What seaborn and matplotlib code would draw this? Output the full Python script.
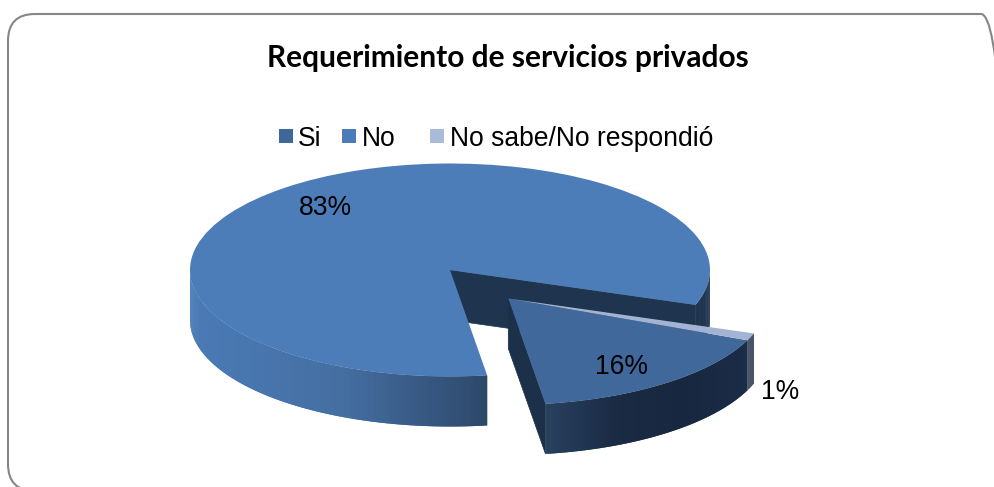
import numpy as np
import matplotlib
matplotlib.use('Agg')
import matplotlib.pyplot as plt
from matplotlib.patches import FancyBboxPatch, Rectangle
from matplotlib.transforms import IdentityTransform
import seaborn as sns

categories = ['Si', 'No', 'No sabe/No respondió']
values = [16.3, 82.6, 1.1]  # labels show them rounded
top_colors = ['#40689b', '#4c7db8', '#a3b3d3']
legend_colors = ['#3f6797', '#4c7cb8', '#aabbd8']

W, H = 995, 487
CX, CY = 450, 270   # pie centre in pixels
RX, RY = 260, 106.5  # ellipse radii
DEPTH = 50 / RY

sns.set_theme(style='white')
plt.rcParams['font.family'] = ['Liberation Sans', 'DejaVu Sans']

fig = plt.figure(figsize=(W / 100, H / 100), dpi=100, facecolor='white')
ax = fig.add_axes([0, 0, 1, 1])


def fig_xy(x, y):
    return x / W, 1 - y / H


wedges, _ = ax.pie(values, colors=top_colors, startangle=-23.1, counterclock=False, radius=1, center=(0, 0))
ax.set_aspect('auto')
ax.set_xlim(-CX / RX, (W - CX) / RX)
ax.set_ylim(-(H - CY) / RY, CY / RY)
ax.axis('off')

# Si and the small slice are pulled out together
si, no, ns = wedges
pulled = (58.3 / RX, -28.5 / RY)
si.set_center(pulled)
ns.set_center(pulled)
for w in wedges:
    w.set_linewidth(0)
    w.set_zorder(5)
    w.set_clip_on(False)


def wall(wedge, a0, a1, stops, zorder):
    # outer side of a slice, cut in thin strips to get the gradient
    a0 = max(a0, 180.0)
    a1 = min(a1, 360.0)
    if a1 <= a0:
        return
    n = int((a1 - a0) * 2) + 1
    pal = sns.blend_palette(stops, 200)
    edges = np.linspace(a0, a1, n + 1)
    cx, cy = wedge.center
    xs_all = cx + np.cos(np.radians(edges))
    xmin, xmax = xs_all.min(), xs_all.max()
    for i in range(n):
        # each strip runs under the next one so no seams show
        t0, t1 = edges[i], edges[min(i + 2, n)]
        x0, x1 = cx + np.cos(np.radians(t0)), cx + np.cos(np.radians(t1))
        y0, y1 = cy + np.sin(np.radians(t0)), cy + np.sin(np.radians(t1))
        k = (cx + np.cos(np.radians(edges[i])) - xmin) / max(xmax - xmin, 1e-6)
        c = pal[min(int(k * 199), 199)]
        ax.fill([x0, x1, x1, x0], [y0, y1, y1 - DEPTH, y0 - DEPTH], color=c, lw=0, zorder=zorder)


def cut_face(wedge, angle, color, zorder):
    cx, cy = wedge.center
    x = cx + np.cos(np.radians(angle))
    y = cy + np.sin(np.radians(angle))
    ax.fill([cx, x, x, cx], [cy, y, y - DEPTH, cy - DEPTH], color=color, lw=0.5, zorder=zorder)


# angles of the slices in 0..360; pie runs clockwise so theta1 is the far end of No
no_a, no_b = no.theta2 % 360, no.theta1 % 360   # no_a: left edge of the gap, no_b: right edge
wall(no, 180, no_a, ['#4a7ab5', '#456fa3', '#2c4869'], 2)
wall(no, no_b, 360, ['#1f344f', '#1f344f'], 2)
cut_face(no, no_b, '#1f344f', 2)

si_a, si_b = si.theta1 % 360, si.theta2 % 360
cut_face(si, si_a, '#1c304a', 3)
wall(si, si_a, si_b, ['#28415f', '#1a2b44', '#182740', '#1b2c46'], 3)
ns_a, ns_b = ns.theta1 % 360, ns.theta2 % 360
wall(ns, ns_a, ns_b, ['#4b5568', '#4a5266'], 3)

# frame of the chart, in pixels; it runs past the right and bottom of the image
fig.add_artist(FancyBboxPatch((35, -4 + 27), 1008 - 35 - 27, H - 14 - 23 - 27,
                              boxstyle='round,pad=27,rounding_size=27',
                              fc='none', ec='#868686', lw=1.5,
                              transform=IdentityTransform(), clip_on=False))

x, y = fig_xy(508, 58)
fig.text(x, y, 'Requerimiento de servicios privados', family=['Lato', 'DejaVu Sans'], weight='bold',
         fontsize=21.5, color='black', ha='center', va='center')

# legend is spaced unevenly in the original, so it is placed by hand
legend_box_x = [279, 342, 430]
legend_text_x = [298, 362, 450]
for lab, col, bx, tx in zip(categories, legend_colors, legend_box_x, legend_text_x):
    x, y = fig_xy(bx, 143)
    fig.add_artist(Rectangle((x, y), 14 / W, 14 / H, transform=fig.transFigure, fc=col, ec='none'))
    x, y = fig_xy(tx, 139)
    fig.text(x, y, lab, fontsize=19.1, color='black', ha='left', va='center')

label_pos = [(622, 367), (325, 208), (780, 392)]
for v, (px, py) in zip(values, label_pos):
    x, y = fig_xy(px, py)
    t = fig.text(x, y, f'{v:.0f}%', fontsize=19.1, color='black', ha='center', va='center')
    t.set_zorder(10)

fig.savefig('out.png', dpi=100, facecolor='white')
